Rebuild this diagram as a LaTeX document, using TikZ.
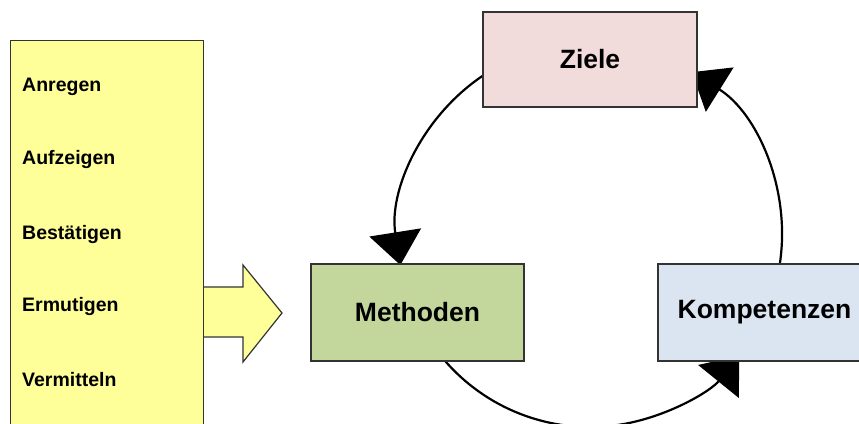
\documentclass[tikz,border=0pt]{standalone}
\usepackage{fontspec}
\setmainfont{Liberation Sans}
\usetikzlibrary{arrows.meta,calc}
\definecolor{ylw}{HTML}{FFFF99}
\definecolor{pinkbox}{HTML}{F2DCDB}
\definecolor{greenbox}{HTML}{C3D69B}
\definecolor{bluebox}{HTML}{DBE5F1}
\definecolor{edge}{HTML}{333333}
\tikzset{
  bigbox/.style={draw=edge, line width=1.3pt, minimum width=213pt, minimum height=97pt, inner sep=0pt,
    font=\fontsize{26.5pt}{30pt}\selectfont\bfseries},
  item/.style={anchor=west, inner sep=0pt, font=\fontsize{19.5pt}{23pt}\selectfont\bfseries},
  cyc/.style={line width=2.2pt, -{Triangle[length=33pt,width=52pt]}},
}
\begin{document}
\begin{tikzpicture}[x=1pt,y=1pt]
\useasboundingbox (0,0) rectangle (859,423);
\fill[white] (0,0) rectangle (859,423);
% circle cycle
\coordinate (c) at (590,188);
\draw[cyc] ($(c)+(124:192)$) arc[start angle=124, end angle=189, radius=192];
\draw[cyc] ($(c)+(221:192)$) arc[start angle=221, end angle=321, radius=192];
\draw[cyc] ($(c)+(-8.6:192)$) arc[start angle=-8.6, end angle=58, radius=192];
% boxes
\node[bigbox, fill=pinkbox, minimum width=214pt, minimum height=95pt] (z) at (590,363.5) {Ziele};
\node[bigbox, fill=greenbox] (m) at (417.5,110.5) {Methoden};
\node[bigbox, fill=bluebox] (k) at (764.5,110.5) {Kompetenzen};
% block arrow
\filldraw[fill=ylw, draw=edge, line width=1.2pt]
  (203,136) -- (243,136) -- (243,158) -- (282,110) -- (243,61) -- (243,86) -- (203,86);
% yellow list box
\node[draw=edge, fill=ylw, line width=1.3pt, minimum width=193pt, minimum height=400pt, inner sep=0pt, anchor=north west] (list) at (10,383) {};
\node[item] (a1) at (22,336) {Anregen};
\node[item] (a2) at (22,263) {Aufzeigen};
\node[item] (a3) at (22,188) {Bestätigen};
\node[item] (a4) at (22,116) {Ermutigen};
\node[item] (a5) at (22,43) {Vermitteln};
\end{tikzpicture}
\end{document}
